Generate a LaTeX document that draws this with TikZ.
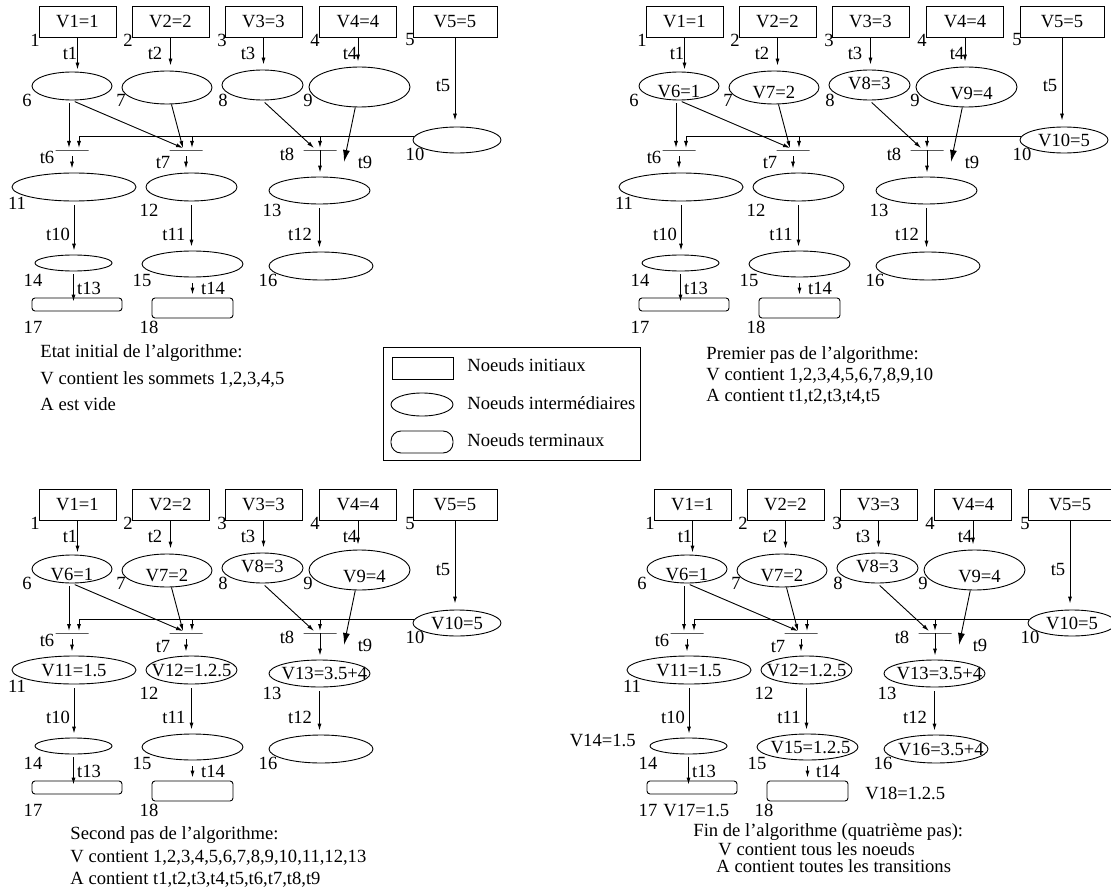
\documentclass[tikz,border=0pt]{standalone}
\usepackage{fontspec}
\setmainfont{Liberation Serif}
\usetikzlibrary{arrows.meta, shapes.geometric}

\begin{document}
\begin{tikzpicture}[
		x=1pt, y=-1pt,
		every node/.style={font=\fontsize{18.6}{22}\selectfont, inner sep=0pt},
		ini/.style={rectangle, draw, minimum width=77, minimum height=31},
		mid/.style 2 args={ellipse, draw, minimum width=#1, minimum height=#2},
		term/.style 2 args={rectangle, draw, rounded corners=3pt, minimum width=#1, minimum height=#2},
		bar/.style={rectangle, draw, minimum width=33, minimum height=0},
		arr/.style={-{Latex[length=7pt, width=4pt]}},
		bigarr/.style={-{Latex[length=12pt, width=7pt]}},
		line width=0.9pt
		]
		
		\useasboundingbox (0,0) rectangle (1111,888);
		
		% The same net, four times (one per step)
		\foreach \p/\dx/\dy in {a/0/0, b/607/0, c/0/483, d/615/483}{
		\begin{scope}[shift={(\dx,\dy)}]
			% Initial nodes
			\node[ini] (\p1) at (77.5,21.5) {V1=1};
			\node[ini] (\p2) at (170.5,21.5) {V2=2};
			\node[ini] (\p3) at (263.5,21.5) {V3=3};
			\node[ini] (\p4) at (358,21.5) {V4=4};
			\node[ini, minimum width=84] (\p5) at (455,21.5) {V5=5};
			
			% Intermediate nodes
			\node[mid={80}{28}] (\p6) at (72,86) {};
			\node[mid={90}{33}] (\p7) at (167,87.5) {};
			\node[mid={81}{30}] (\p8) at (262.5,85) {};
			\node[mid={101}{40}] (\p9) at (359.5,87) {};
			\node[mid={88}{26}] (\p10) at (457,140) {};
			\node[mid={124}{28}] (\p11) at (74,187) {};
			\node[mid={91}{28}] (\p12) at (191.5,187) {};
			\node[mid={101}{27}] (\p13) at (319.5,190.5) {};
			\node[mid={77}{16}] (\p14) at (73.5,263) {};
			\node[mid={101}{26}] (\p15) at (192.5,264) {};
			\node[mid={104}{28}] (\p16) at (321,266) {};
			
			% Terminal nodes
			\node[term={90}{13}] (\p17) at (77,304.5) {};
			\node[term={81}{20}] (\p18) at (192.5,308) {};
			
			% Transition bars and their entry points
			\node[bar] (\p t6) at (72,150) {};
			\node[bar] (\p t7) at (186,150) {};
			\node[bar] (\p t8) at (320,150) {};
			\coordinate (\p i6) at (69,148);
			\coordinate (\p i7) at (183,148);
			\coordinate (\p i8) at (314,148);
			\coordinate (\p i9) at (344,162);
			\coordinate (\p h6) at (79,148);
			\coordinate (\p h7) at (192,148);
			\coordinate (\p h8) at (320,148);
			
			% t1 - t5
			\draw[arr, shorten >=2pt] (\p1) -- (\p1 |- \p6.north);
			\draw[arr, shorten >=5pt] (\p2) -- (\p2 |- \p7.north);
			\draw[arr, shorten >=5pt] (\p3) -- (\p3 |- \p8.north);
			\draw[arr, shorten >=5pt] (\p4) -- (\p4 |- \p9.north);
			\draw[arr, shorten >=6pt] (\p5) -- (\p5 |- \p10.north);
			
			% Into the transitions
			\draw[arr, shorten <=3pt] (\p6.south -| \p i6) -- (\p i6);
			\draw[arr, shorten <=3pt] (\p6.south) -- (\p i7);
			\draw[arr] (\p7) -- (\p i7);
			\draw[arr, shorten <=3pt] (\p8.south) -- (\p i8);
			\draw[bigarr] (\p9) -- (\p i9);
			\draw[arr] (\p10.175) -- (\p10.175 -| \p h6) -- (\p h6);
			\draw[arr] (\p10.175 -| \p h7) -- (\p h7);
			\draw[arr] (\p10.175 -| \p h8) -- (\p h8);
			
			% Out of the transitions
			\draw[arr, shorten <=6pt, shorten >=4pt] (\p t6) -- (\p t6 |- \p11.north);
			\draw[arr, shorten <=6pt, shorten >=4pt] (\p t7) -- (\p t7 |- \p12.north);
			\draw[arr, shorten >=4pt] (\p t8) -- (\p t8 |- \p13.north);
			\draw[arr, shorten <=4pt, shorten >=4pt] (\p11) -- (\p11 |- \p14.north);
			\draw[arr, shorten <=4pt, shorten >=4pt] (\p12) -- (\p12 |- \p15.north);
			\draw[arr, shorten <=4pt, shorten >=4pt] (\p13) -- (\p13 |- \p16.north);
			\draw[arr, shorten <=3pt, shorten >=-4pt] (\p14) -- (\p14 |- \p17.north);
			\draw[arr, shorten <=6pt, shorten >=3pt] (\p15) -- (\p15 |- \p18.north);
			
			% Node numbers and transition names
			\foreach \n/\x/\y in {1/35/40, 2/128/40, 3/222/40, 4/315/40, 5/410/40,
				6/27/100, 7/121/100, 8/223/100, 9/308/100, 10/415/154,
				11/17/203, 12/149/210, 13/272/210, 14/33/280, 15/142/280,
				16/268/280, 17/33/327, 18/149/327}
				\node (\p n\n) at (\x,\y) {\n};
			\foreach \n/\x/\y in {1/70/53, 2/155/53, 3/248/53, 4/350/53, 5/443/86,
				6/47/157, 7/163/163, 8/287/154, 9/365/162, 10/58/234,
				11/174/234, 12/300/234, 13/89/288, 14/213/288}
				\node (\p tl\n) at (\x,\y) {t\n};
		\end{scope}
		}
		
		% Values, first step
		\node (bv6) at ([yshift=-5pt]b6) {V6=1};
		\node (bv7) at ([yshift=-5pt]b7) {V7=2};
		\node (bv8) at ([yshift=2pt]b8) {V8=3};
		\node (bv9) at ([xshift=5pt, yshift=-6pt]b9) {V9=4};
		\node (bv10) at (b10) {V10=5};
		
		% Values, second step
		\node (cv6) at ([yshift=-5pt]c6) {V6=1};
		\node (cv7) at ([yshift=-5pt]c7) {V7=2};
		\node (cv8) at ([yshift=2pt]c8) {V8=3};
		\node (cv9) at ([xshift=5pt, yshift=-6pt]c9) {V9=4};
		\node (cv10) at (c10) {V10=5};
		\node (cv11) at (c11) {V11=1.5};
		\node (cv12) at (c12) {V12=1.2.5};
		\node (cv13) at ([xshift=5pt]c13) {V13=3.5+4};
		
		% Values, last step
		\node (dv6) at ([yshift=-5pt]d6) {V6=1};
		\node (dv7) at ([yshift=-5pt]d7) {V7=2};
		\node (dv8) at ([yshift=2pt]d8) {V8=3};
		\node (dv9) at ([xshift=5pt, yshift=-6pt]d9) {V9=4};
		\node (dv10) at (d10) {V10=5};
		\node (dv11) at (d11) {V11=1.5};
		\node (dv12) at (d12) {V12=1.2.5};
		\node (dv13) at ([xshift=5pt]d13) {V13=3.5+4};
		\node (dv15) at ([xshift=3pt]d15) {V15=1.2.5};
		\node (dv16) at ([xshift=5pt]d16) {V16=3.5+4};
		\node[anchor=east] (dv14) at (636,740) {V14=1.5};
		\node[anchor=west] (dv17) at (663,810) {V17=1.5};
		\node[anchor=west] (dv18) at (865,793) {V18=1.2.5};
		
		% Captions
		\node[anchor=west] (capa1) at (40,353) {Etat initial de l'algorithme:};
		\node[anchor=west] (capa2) at (40,379) {V contient les sommets 1,2,3,4,5};
		\node[anchor=west] (capa3) at (40,404) {A est vide};
		\node[anchor=west] (capb1) at (706,355) {Premier pas de l'algorithme:};
		\node[anchor=west] (capb2) at (706,376) {V contient 1,2,3,4,5,6,7,8,9,10};
		\node[anchor=west] (capb3) at (706,397) {A contient t1,t2,t3,t4,t5};
		\node[anchor=west] (capc1) at (70,835) {Second pas de l'algorithme:};
		\node[anchor=west] (capc2) at (70,858) {V contient 1,2,3,4,5,6,7,8,9,10,11,12,13};
		\node[anchor=west] (capc3) at (70,880) {A contient t1,t2,t3,t4,t5,t6,t7,t8,t9};
		\node[anchor=west] (capd1) at (693,832) {Fin de l'algorithme (quatrième pas):};
		\node[anchor=west] (capd2) at (718,849) {V contient tous les noeuds};
		\node[anchor=west] (capd3) at (716,866) {A contient toutes les transitions};
		
		% Legend
		\node[draw, minimum width=257, minimum height=113, anchor=north west] (legend) at (383,347) {};
		\node[ini, minimum width=61, minimum height=22] (legini) at (422.5,368) {};
		\node[mid={62}{23}] (legmid) at (422,404.5) {};
		\node[term={62}{22}, rounded corners=10pt] (legterm) at (422,442) {};
		\node[anchor=west] (legtxt1) at (467,365) {Noeuds initiaux};
		\node[anchor=west] (legtxt2) at (467,403) {Noeuds intermédiaires};
		\node[anchor=west] (legtxt3) at (467,440) {Noeuds terminaux};
		
	\end{tikzpicture}
\end{document}
